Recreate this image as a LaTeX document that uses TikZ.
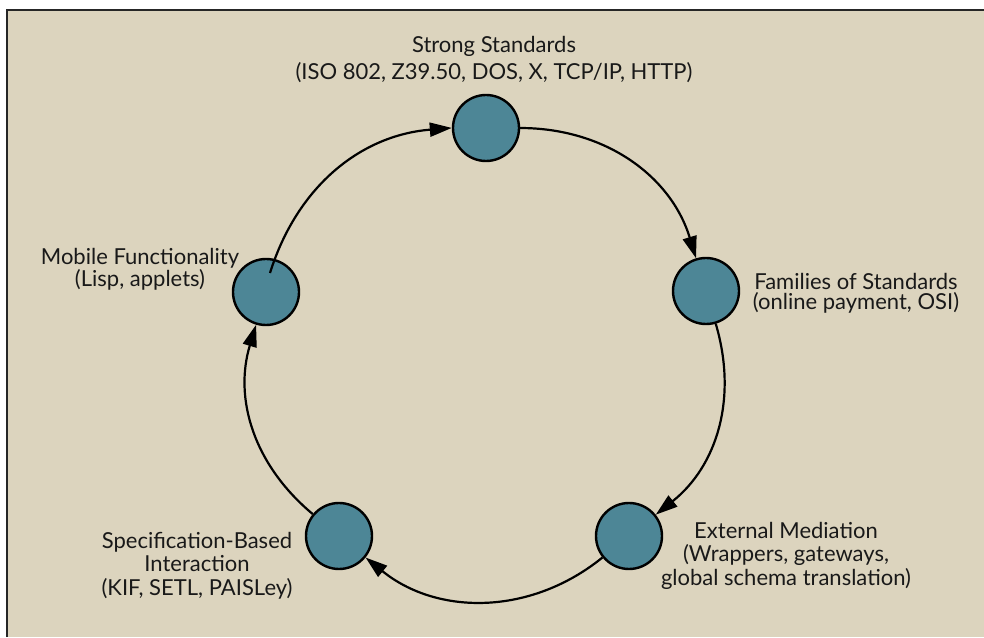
\documentclass[tikz,border=0pt]{standalone}
\usepackage{fontspec}
\setmainfont{Lato}
\usetikzlibrary{arrows.meta}
\definecolor{bgbeige}{RGB}{220,212,190}
\definecolor{nodeteal}{RGB}{77,134,150}
\begin{document}
\begin{tikzpicture}[x=1pt,y=1pt,
  stage/.style={circle,draw=black,line width=2.4pt,fill=nodeteal,minimum size=66pt,inner sep=0pt},
  lbl/.style={align=center,font=\fontsize{22}{23.5}\selectfont,inner sep=0pt,text=black!90,anchor=base},
  arr/.style={line width=2.2pt,-{Triangle[length=22pt,width=14pt]}}]
\useasboundingbox (0,0) rectangle (984,637);
\fill[bgbeige] (7,0) rectangle (984,627);
\draw[line width=2pt,black!85] (7,0) -- (7,627) -- (984,627);

\node[stage] (s1) at (486,509) {};
\node[stage] (s2) at (706,346) {};
\node[stage] (s3) at (629,101) {};
\node[stage] (s4) at (339,101) {};
\node[stage] (s5) at (266,345) {};

\draw[arr] (s1) to[bend left=36.5] (s2);
\draw[arr] (s2) to[bend left=34] (s3);
\draw[arr] (s3) to[bend left=39] (s4);
\draw[arr] (s4) to[bend left=33.5] (s5);
\coordinate (m0) at (270,364);
\draw[arr] (m0) to[bend left=34] (s1);

\node[lbl] (t1) at (494,557) {Strong Standards\\[3.5pt](ISO 802, Z39.50, DOS, X, TCP/IP, HTTP)};
\node[lbl] (t2) at (856,327) {Families of Standards\\[-3pt](online payment, OSI)};
\node[lbl] (t3) at (786,52) {External Mediation\\(Wrappers, gateways,\\global schema translation)};
\node[lbl] (t4) at (197,42) {Specification-Based\\Interaction\\(KIF, SETL, PAISLey)};
\node[lbl] (t5) at (140,350) {Mobile Functionality\\[-1.5pt](Lisp, applets)};
\end{tikzpicture}
\end{document}
